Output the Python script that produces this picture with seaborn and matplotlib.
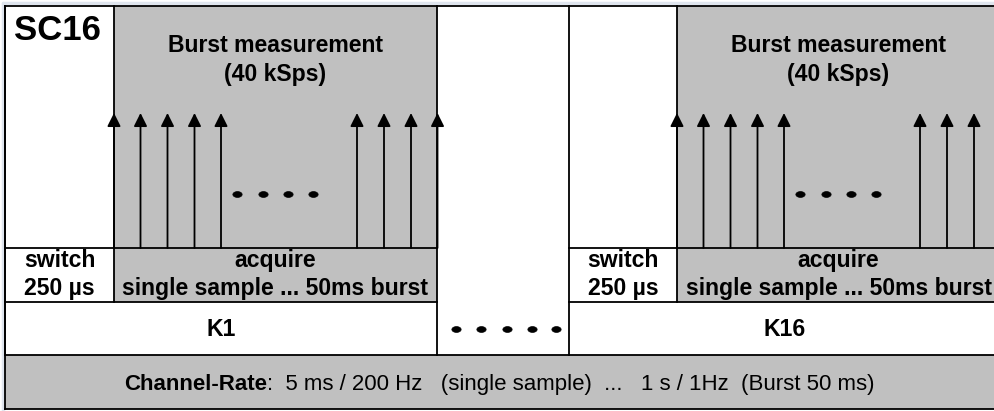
import matplotlib
matplotlib.use("Agg")
import matplotlib.pyplot as plt
import seaborn as sns
import pandas as pd
import numpy as np
from matplotlib.patches import Rectangle

# Inhalt des Diagramms
title = "SC16"
channels = ["K1", "K16"]
switch_label = ["switch", "250 µs"]
acquire_label = ["acquire", "single sample ... 50ms burst"]
burst_label = ["Burst measurement", "(40 kSps)"]
rate_bold = "Channel-Rate"
rate_text = ":  5 ms / 200 Hz   (single sample)  ...   1 s / 1Hz  (Burst 50 ms)"

# Layout in Pixeln (Bild 994 x 411)
block_left = [5, 569]
switch_w = [109, 108]
acquire_w = 323
sample_offsets = [0, 26.5, 53.5, 80.5, 107, 243, 270, 297, 323.5]
gap_dots_x = [456, 481, 507, 532, 556]
burst_dots_off = [123, 149, 174, 199]
y_top, y_row1, y_row2, y_row3, y_bot = 6, 248, 302, 355, 409
x_right = 1000
GRAY = "#c0c0c0"
LW = 1.3

sns.set_theme(style="white")
plt.rcParams['font.family'] = ['Liberation Sans', 'DejaVu Sans']
plt.rcParams['text.color'] = 'black'

fig = plt.figure(figsize=(9.94, 4.11), dpi=100)
ax = fig.add_axes([0, 0, 1, 1])

# leichter Fensterschatten
ax.plot([2.5, 2.5], [3, 411], color="#dfe5ee", lw=2.5, zorder=0)
ax.plot([3, 994], [3, 3], color="#dfe5ee", lw=2.5, zorder=0)

# graue Flaechen
for i, x0 in enumerate(block_left):
    bx = x0 + switch_w[i]
    ax.add_patch(Rectangle((bx, y_top), acquire_w, y_row2 - y_top, fc=GRAY, ec="none", zorder=1))
ax.add_patch(Rectangle((5, y_row3), x_right - 5, y_bot - y_row3, fc=GRAY, ec="none", zorder=1))

# Linien
def hline(y, x0, x1):
    ax.plot([x0, x1], [y, y], color="black", lw=LW, zorder=3, solid_capstyle='projecting')

def vline(x, y0, y1):
    ax.plot([x, x], [y0, y1], color="black", lw=LW, zorder=3, solid_capstyle='projecting')

hline(y_top, 5, x_right)
hline(y_row3, 5, x_right)
hline(y_bot, 5, x_right)
vline(5, y_top, y_bot)
for i, x0 in enumerate(block_left):
    bx = x0 + switch_w[i]
    hline(y_row1, x0, bx + acquire_w)
    hline(y_row2, x0, bx + acquire_w)
    vline(x0, y_top, y_row3)
    vline(bx, y_top, y_row2)
    vline(bx + acquire_w, y_top, y_row3)

# Abtastpfeile
for i, x0 in enumerate(block_left):
    bx = x0 + switch_w[i]
    for off in sample_offsets:
        ax.annotate("", xy=(bx + off, 113), xytext=(bx + off, y_row1),
                    arrowprops=dict(arrowstyle='-|>', color='black', lw=LW,
                                    mutation_scale=20, shrinkA=0, shrinkB=0),
                    zorder=4)

# Punkte
t = np.linspace(0, 2 * np.pi, 30)
dot = list(zip(1.6 * np.cos(t), np.sin(t)))
dots = pd.DataFrame({
    "x": gap_dots_x + [block_left[0] + switch_w[0] + o for o in burst_dots_off]
         + [block_left[1] + switch_w[1] + o for o in burst_dots_off],
    "y": [329] * len(gap_dots_x) + [194] * (2 * len(burst_dots_off)),
})
sns.scatterplot(data=dots, x="x", y="y", marker=dot, s=45, color="black",
                edgecolor="black", linewidth=0.5, ax=ax, zorder=5, legend=False)
ax.set_xlim(0, 994)
ax.set_ylim(411, 0)
ax.axis('off')

# Texte
FS = 16.6
ax.text(14, 31, title, fontsize=25, fontweight='bold', color='black', ha='left', va='center', zorder=6)
for i, x0 in enumerate(block_left):
    bx = x0 + switch_w[i]
    cx_burst = bx + acquire_w / 2
    ax.text(cx_burst, 45, burst_label[0], fontsize=FS, fontweight='bold', color='black', ha='center', va='center', zorder=6)
    ax.text(cx_burst, 74, burst_label[1], fontsize=FS, fontweight='bold', color='black', ha='center', va='center', zorder=6)
    cx_sw = x0 + switch_w[i] / 2
    ax.text(cx_sw, 260, switch_label[0], fontsize=FS, fontweight='bold', color='black', ha='center', va='center', zorder=6)
    ax.text(cx_sw, 288, switch_label[1], fontsize=FS, fontweight='bold', color='black', ha='center', va='center', zorder=6)
    ax.text(cx_burst, 260, acquire_label[0], fontsize=FS, fontweight='bold', color='black', ha='center', va='center', zorder=6)
    ax.text(cx_burst, 288, acquire_label[1], fontsize=FS, fontweight='bold', color='black', ha='center', va='center', zorder=6)
    cx_k = (x0 + bx + acquire_w) / 2
    ax.text(cx_k, 329, channels[i], fontsize=FS, fontweight='bold', color='black', ha='center', va='center', zorder=6)

t1 = ax.text(124, 384, rate_bold, fontsize=16, fontweight='bold', color='black', ha='left', va='center', zorder=6)
ax.annotate(rate_text, xy=(1, 0), xycoords=t1, fontsize=16, color='black', ha='left', va='bottom', zorder=6)

fig.savefig("out.png", dpi=100, facecolor="white")
